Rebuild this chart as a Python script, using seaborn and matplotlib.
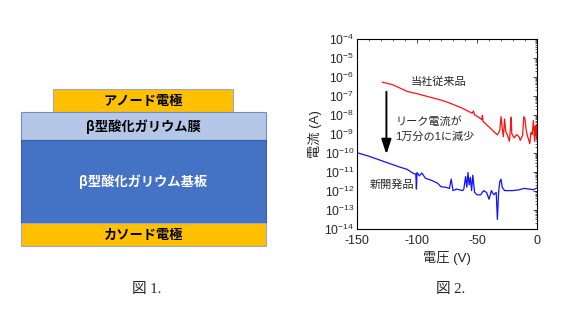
import numpy as np
import pandas as pd
import matplotlib
matplotlib.use("Agg")
import matplotlib.pyplot as plt
import matplotlib.ticker as mticker
from matplotlib.patches import Rectangle
import seaborn as sns

sns.set_style("white")
plt.rcParams['font.family'] = ['Liberation Sans', 'Noto Sans CJK JP']
plt.rcParams['mathtext.default'] = 'regular'
plt.rcParams['axes.unicode_minus'] = False

# ---- data ----
layer_labels = ["アノード電極", "β型酸化ガリウム膜", "β型酸化ガリウム基板", "カソード電極"]

conv_voltage = [-129, -120, -108, -100, -89, -80, -72, -62, -54, -53, -52, -48, -46, -45.5, -45, -42,
                -39, -36, -33, -31, -30, -29, -28, -27, -26, -24.5, -23, -22, -21.5, -21, -19, -17,
                -15, -14, -12, -11, -10, -9, -8, -6, -5, -4, -3, -2, -1.5, -1, -0.5, 0]
conv_current = [5.3e-7, 3.8e-7, 1.7e-7, 1.3e-7, 8.5e-8, 6.0e-8, 4.0e-8, 2.2e-8, 1.2e-8, 1.6e-8, 1.0e-8,
                7.0e-9, 5.5e-9, 9.5e-9, 4.5e-9, 3.0e-9, 2.0e-9, 1.3e-9, 8.7e-10, 1.5e-9, 8.0e-9, 2.0e-9,
                7e-10, 6e-9, 1.3e-9, 8e-10, 4e-10, 2.5e-9, 7.5e-9, 1.0e-9, 6e-10, 9e-10, 7e-10, 4.5e-10,
                8e-10, 8e-9, 6e-9, 1.5e-9, 8e-10, 3e-10, 1.2e-9, 9e-10, 5e-9, 4e-10, 2.5e-9, 8e-10, 3e-9, 5e-10]

new_voltage = [-150, -140, -125, -115, -108, -103, -101, -100.5, -100, -98, -96, -93, -88, -83, -80,
               -76, -73, -71.5, -70, -67, -62, -61, -59.5, -58.5, -57.5, -56.5, -55.5, -54.5, -53.5,
               -52, -50, -47, -44.5, -42, -40, -38, -36, -34, -33, -32, -31, -30, -29, -27, -24, -20,
               -15, -11, -6, -3, 0]
new_current = [1.0e-10, 6.5e-11, 3.0e-11, 1.8e-11, 1.3e-11, 8.0e-12, 7.5e-12, 1.2e-12, 9e-12, 6e-12,
               8.5e-12, 4.5e-12, 3.5e-12, 2.5e-12, 1.6e-12, 1.5e-12, 1.3e-12, 4.0e-12, 1.0e-12, 1.2e-12,
               1.0e-12, 1.2e-12, 5.5e-12, 1.5e-12, 9e-12, 2.0e-12, 5.0e-12, 1.0e-12, 6.5e-12, 8e-13,
               6e-13, 6e-13, 1.0e-12, 8e-13, 3.5e-13, 1.0e-12, 6e-13, 8e-13, 3e-14, 8e-13, 3.0e-12,
               4.0e-12, 1.5e-12, 1.0e-12, 1.0e-12, 1.0e-12, 1.1e-12, 1.3e-12, 1.2e-12, 1.1e-12, 1.4e-12]

label_conv = "当社従来品"
label_new = "新開発品"
note_lines = ["リーク電流が", "1万分の1に減少"]
arrow_x = -125.5
arrow_from = 2.3e-7
arrow_to = 5.9e-11

df = pd.concat([
    pd.DataFrame({"V": conv_voltage, "I": conv_current, "s": label_conv}),
    pd.DataFrame({"V": new_voltage, "I": new_current, "s": label_new}),
])

W, H = 561, 312
fig = plt.figure(figsize=(W / 100, H / 100), dpi=100)

# ---- left: device structure (pixel coords) ----
axd = fig.add_axes([0, 0, 1, 1])
axd.set_xlim(0, W)
axd.set_ylim(H, 0)
axd.axis("off")
layers = [
    (53, 89, 180, 23, "#FFC000", "#9AA9C5", "black"),
    (21, 112, 245, 28, "#B4C7E7", "#6F8DC6", "black"),
    (21, 140, 245, 83, "#4472C4", "#3A62A8", "white"),
    (21, 223, 245, 23, "#FFC000", "#9AA9C5", "black"),
]
for (x, y, w, h, fc, ec, tc), lab in zip(layers, layer_labels):
    axd.add_patch(Rectangle((x, y), w, h, facecolor=fc, edgecolor=ec, lw=0.8))
    axd.text(x + w / 2, y + h / 2 + 0.5, lab, ha="center", va="center", fontsize=9.5,
             color=tc, fontweight="bold", family=['Noto Sans CJK JP', 'DejaVu Sans'])
axd.text(147, 289, "図 1.", ha="center", va="center", fontsize=10.5,
         family=['Liberation Serif', 'Noto Sans CJK JP'])
axd.text(451, 289, "図 2.", ha="center", va="center", fontsize=10.5,
         family=['Liberation Serif', 'Noto Sans CJK JP'])

# ---- right: I-V plot ----
ax = fig.add_axes([357 / W, 1 - 228.5 / H, 180 / W, 189.5 / H])
sns.lineplot(data=df, x="V", y="I", hue="s", palette={label_conv: "#FF1010", label_new: "#1010FF"},
             ax=ax, legend=False, lw=0.9, estimator=None, sort=False)
ax.set_yscale("log")
ax.set_xlim(-150, 0)
ax.set_ylim(1e-14, 1e-4)
ax.yaxis.set_major_locator(mticker.LogLocator(base=10, numticks=20))
ax.yaxis.set_minor_locator(mticker.LogLocator(base=10, subs=np.arange(2, 10), numticks=20))
ax.yaxis.set_minor_formatter(mticker.NullFormatter())
ax.xaxis.set_major_locator(mticker.MultipleLocator(50))
ax.xaxis.set_minor_locator(mticker.MultipleLocator(10))
ax.tick_params(which="both", direction="in", top=True, right=True, labelsize=9, pad=2)
ax.tick_params(axis="x", pad=5)
ax.tick_params(axis="y", labelsize=8.7)
ax.tick_params(which="major", length=3, width=0.6)
ax.tick_params(which="minor", length=1.5, width=0.5)
for s in ax.spines.values():
    s.set_linewidth(0.8)
    s.set_color("black")
ax.set_xlabel("電圧 (V)", fontsize=9.5, labelpad=2.5)
ax.set_ylabel("電流 (A)", fontsize=9.5, labelpad=2)

ax.annotate("", xy=(arrow_x, arrow_to), xytext=(arrow_x, arrow_from),
            arrowprops=dict(arrowstyle="-|>,head_width=0.3,head_length=0.9", color="black", lw=1.4))
ax.text(-105, 5.5e-7, label_conv, fontsize=8, ha="left", va="center")
ax.text(-118, 4.5e-9, note_lines[0], fontsize=8, ha="left", va="center")
ax.text(-118, 7.0e-10, note_lines[1], fontsize=8, ha="left", va="center")
ax.text(-139, 2.2e-12, label_new, fontsize=8, ha="left", va="center")

fig.savefig("out.png", dpi=100)
